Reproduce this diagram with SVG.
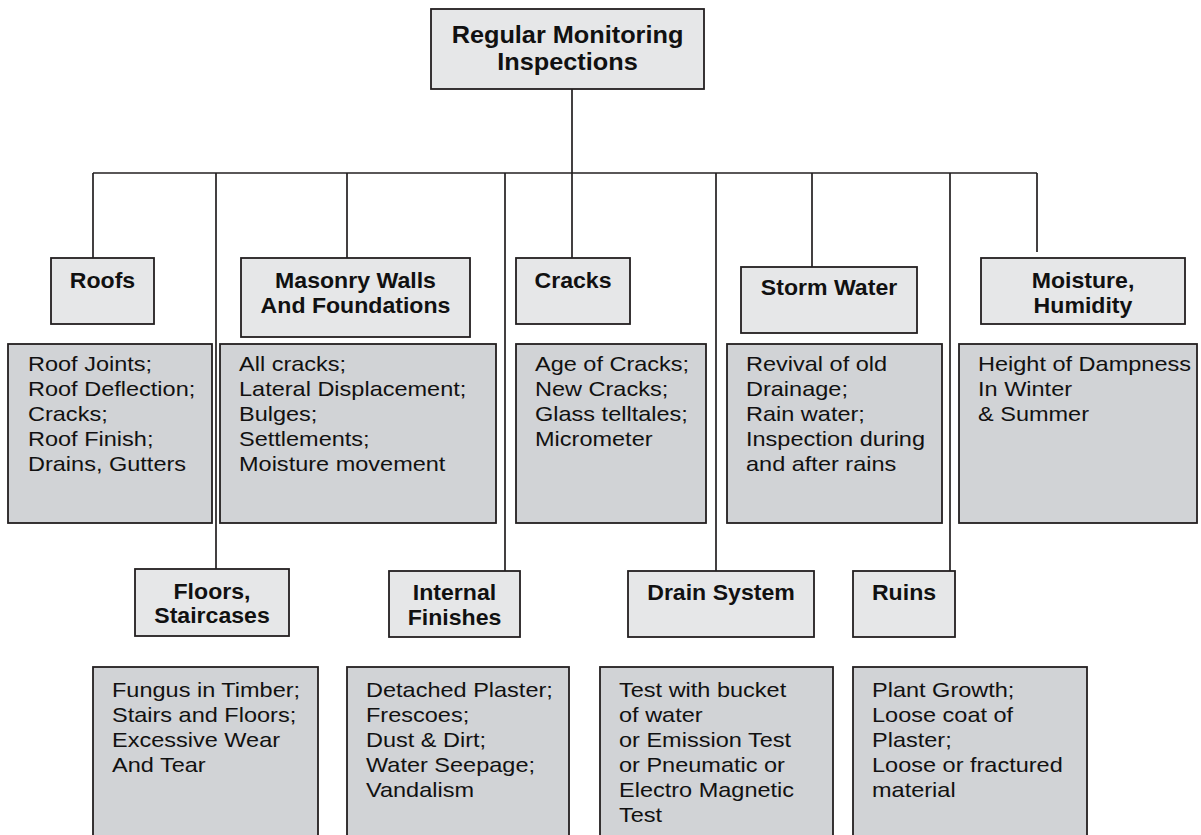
<svg xmlns="http://www.w3.org/2000/svg" width="1201" height="835" viewBox="0 0 1201 835">
  <style>
    .head { fill: #e6e7e8; stroke: #231f20; stroke-width: 1.8; }
    .detail { fill: #d1d3d6; stroke: #231f20; stroke-width: 1.8; }
    .wire { fill: none; stroke: #231f20; stroke-width: 1.7; }
    .lbl { font-family: "Liberation Sans", Arial, Helvetica, sans-serif; font-weight: bold; font-size: 22px; fill: #111; text-anchor: middle; }
    .ttl { font-family: "Liberation Sans", Arial, Helvetica, sans-serif; font-weight: bold; font-size: 23px; fill: #111; text-anchor: middle; }
    .txt { font-family: "Liberation Sans", Arial, Helvetica, sans-serif; font-size: 21px; fill: #111; }
  </style>

  <rect width="1201" height="835" fill="#ffffff"/>

  <!-- connectors: trunk, bus and drops -->
  <g id="connectors" class="wire">
    <line x1="572" y1="89" x2="572" y2="173"/>
    <line x1="93" y1="173" x2="1037" y2="173"/>
    <line x1="93" y1="173" x2="93" y2="258"/>
    <line x1="216" y1="173" x2="216" y2="569"/>
    <line x1="347" y1="173" x2="347" y2="258"/>
    <line x1="505" y1="173" x2="505" y2="571"/>
    <line x1="572" y1="173" x2="572" y2="258"/>
    <line x1="716" y1="173" x2="716" y2="571"/>
    <line x1="812" y1="173" x2="812" y2="267"/>
    <line x1="950" y1="173" x2="950" y2="571"/>
    <line x1="1037" y1="173" x2="1037" y2="252"/>
  </g>

  <!-- root -->
  <g id="node-root">
    <rect class="head" x="431" y="9" width="273" height="80"/>
    <text class="ttl" transform="matrix(1.1 0 0 1 567.5 43)">Regular Monitoring</text>
    <text class="ttl" transform="matrix(1.1 0 0 1 567.5 70)">Inspections</text>
  </g>

  <!-- upper row of categories -->
  <g id="node-roofs">
    <rect class="head" x="51" y="258" width="103" height="66"/>
    <text class="lbl" transform="matrix(1.05 0 0 1 102.5 288)">Roofs</text>
  </g>
  <g id="node-masonry">
    <rect class="head" x="241" y="258" width="229" height="79"/>
    <text class="lbl" transform="matrix(1.05 0 0 1 355.5 288)">Masonry Walls</text>
    <text class="lbl" transform="matrix(1.05 0 0 1 355.5 313)">And Foundations</text>
  </g>
  <g id="node-cracks">
    <rect class="head" x="516" y="258" width="114" height="66"/>
    <text class="lbl" transform="matrix(1.05 0 0 1 573 288)">Cracks</text>
  </g>
  <g id="node-storm">
    <rect class="head" x="741" y="267" width="176" height="66"/>
    <text class="lbl" transform="matrix(1.05 0 0 1 829 295)">Storm Water</text>
  </g>
  <g id="node-moisture">
    <rect class="head" x="981" y="258" width="204" height="66"/>
    <text class="lbl" transform="matrix(1.05 0 0 1 1083 288)">Moisture,</text>
    <text class="lbl" transform="matrix(1.05 0 0 1 1083 313)">Humidity</text>
  </g>

  <!-- upper row of details -->
  <g id="node-roofs-detail">
    <rect class="detail" x="8" y="344" width="204" height="179"/>
    <text class="txt" transform="matrix(1.12 0 0 1 28 371)">
      <tspan x="0" y="0">Roof Joints;</tspan>
      <tspan x="0" y="25">Roof Deflection;</tspan>
      <tspan x="0" y="50">Cracks;</tspan>
      <tspan x="0" y="75">Roof Finish;</tspan>
      <tspan x="0" y="100">Drains, Gutters</tspan>
    </text>
  </g>
  <g id="node-masonry-detail">
    <rect class="detail" x="220" y="344" width="276" height="179"/>
    <text class="txt" transform="matrix(1.12 0 0 1 239 371)">
      <tspan x="0" y="0">All cracks;</tspan>
      <tspan x="0" y="25">Lateral Displacement;</tspan>
      <tspan x="0" y="50">Bulges;</tspan>
      <tspan x="0" y="75">Settlements;</tspan>
      <tspan x="0" y="100">Moisture movement</tspan>
    </text>
  </g>
  <g id="node-cracks-detail">
    <rect class="detail" x="516" y="344" width="190" height="179"/>
    <text class="txt" transform="matrix(1.12 0 0 1 535 371)">
      <tspan x="0" y="0">Age of Cracks;</tspan>
      <tspan x="0" y="25">New Cracks;</tspan>
      <tspan x="0" y="50">Glass telltales;</tspan>
      <tspan x="0" y="75">Micrometer</tspan>
    </text>
  </g>
  <g id="node-storm-detail">
    <rect class="detail" x="727" y="344" width="215" height="179"/>
    <text class="txt" transform="matrix(1.12 0 0 1 746 371)">
      <tspan x="0" y="0">Revival of old</tspan>
      <tspan x="0" y="25">Drainage;</tspan>
      <tspan x="0" y="50">Rain water;</tspan>
      <tspan x="0" y="75">Inspection during</tspan>
      <tspan x="0" y="100">and after rains</tspan>
    </text>
  </g>
  <g id="node-moisture-detail">
    <rect class="detail" x="959" y="344" width="238" height="179"/>
    <text class="txt" transform="matrix(1.12 0 0 1 978 371)">
      <tspan x="0" y="0">Height of Dampness</tspan>
      <tspan x="0" y="25">In Winter</tspan>
      <tspan x="0" y="50">&amp; Summer</tspan>
    </text>
  </g>

  <!-- lower row of categories -->
  <g id="node-floors">
    <rect class="head" x="135" y="569" width="154" height="67"/>
    <text class="lbl" transform="matrix(1.05 0 0 1 212 599)">Floors,</text>
    <text class="lbl" transform="matrix(1.05 0 0 1 212 623)">Staircases</text>
  </g>
  <g id="node-internal">
    <rect class="head" x="389" y="571" width="131" height="66"/>
    <text class="lbl" transform="matrix(1.05 0 0 1 454.5 600)">Internal</text>
    <text class="lbl" transform="matrix(1.05 0 0 1 454.5 625)">Finishes</text>
  </g>
  <g id="node-drain">
    <rect class="head" x="628" y="571" width="186" height="66"/>
    <text class="lbl" transform="matrix(1.05 0 0 1 721 600)">Drain System</text>
  </g>
  <g id="node-ruins">
    <rect class="head" x="853" y="571" width="102" height="66"/>
    <text class="lbl" transform="matrix(1.05 0 0 1 904 600)">Ruins</text>
  </g>

  <!-- lower row of details -->
  <g id="node-floors-detail">
    <rect class="detail" x="93" y="667" width="225" height="180"/>
    <text class="txt" transform="matrix(1.12 0 0 1 112 697)">
      <tspan x="0" y="0">Fungus in Timber;</tspan>
      <tspan x="0" y="25">Stairs and Floors;</tspan>
      <tspan x="0" y="50">Excessive Wear</tspan>
      <tspan x="0" y="75">And Tear</tspan>
    </text>
  </g>
  <g id="node-internal-detail">
    <rect class="detail" x="347" y="667" width="222" height="180"/>
    <text class="txt" transform="matrix(1.12 0 0 1 366 697)">
      <tspan x="0" y="0">Detached Plaster;</tspan>
      <tspan x="0" y="25">Frescoes;</tspan>
      <tspan x="0" y="50">Dust &amp; Dirt;</tspan>
      <tspan x="0" y="75">Water Seepage;</tspan>
      <tspan x="0" y="100">Vandalism</tspan>
    </text>
  </g>
  <g id="node-drain-detail">
    <rect class="detail" x="600" y="667" width="233" height="180"/>
    <text class="txt" transform="matrix(1.12 0 0 1 619 697)">
      <tspan x="0" y="0">Test with bucket</tspan>
      <tspan x="0" y="25">of water</tspan>
      <tspan x="0" y="50">or Emission Test</tspan>
      <tspan x="0" y="75">or Pneumatic or</tspan>
      <tspan x="0" y="100">Electro Magnetic</tspan>
      <tspan x="0" y="125">Test</tspan>
    </text>
  </g>
  <g id="node-ruins-detail">
    <rect class="detail" x="853" y="667" width="234" height="180"/>
    <text class="txt" transform="matrix(1.12 0 0 1 872 697)">
      <tspan x="0" y="0">Plant Growth;</tspan>
      <tspan x="0" y="25">Loose coat of</tspan>
      <tspan x="0" y="50">Plaster;</tspan>
      <tspan x="0" y="75">Loose or fractured</tspan>
      <tspan x="0" y="100">material</tspan>
    </text>
  </g>
</svg>
